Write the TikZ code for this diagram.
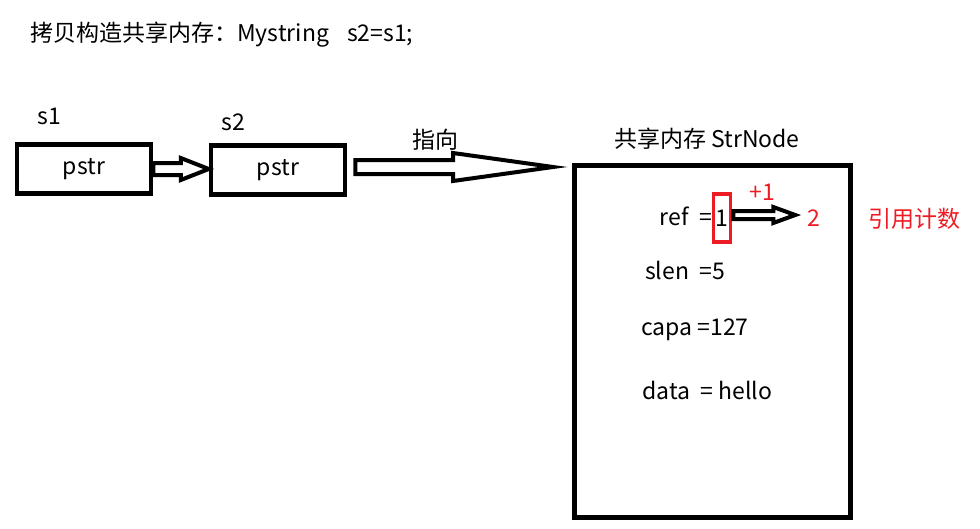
\documentclass[tikz,border=0pt]{standalone}
\usepackage{fontspec}
\setmainfont{Noto Sans CJK SC}
\usetikzlibrary{calc}
\definecolor{paintred}{RGB}{237,28,36}
\tikzset{
  box/.style={draw, line width=4.5pt, minimum width=134pt, minimum height=49pt, inner sep=0pt},
  txt/.style={inner sep=0pt, font=\fontsize{23}{27}\selectfont},
  redtxt/.style={txt, text=paintred},
  fat/.style={draw, line width=4pt, line join=miter, fill=white}
}
% hollow arrow: from, to, half body, half head, head length
\newcommand{\fatarrow}[5]{%
  \draw[fat] let \p1=(#1), \p2=(#2) in
    (\x1,\y1+#3) -- (\x2-#5,\y1+#3) -- (\x2-#5,\y1+#4) -- (\x2,\y1)
    -- (\x2-#5,\y1-#4) -- (\x2-#5,\y1-#3) -- (\x1,\y1-#3) -- cycle;}
\begin{document}
\begin{tikzpicture}[x=1pt,y=-1pt]
\useasboundingbox (0,0) rectangle (980,528);
\node[txt, anchor=west] (title) at (30,35) {拷贝构造共享内存：Mystring\hspace{18pt}s2=s1;};

\node[txt] (s1name) at (49,116) {s1};
\node[box, txt] (s1) at (84,169) {pstr};
\node[txt] (s2name) at (233,122) {s2};
\node[box, txt] (s2) at (278,170) {pstr};

\node[txt] (point) at (435,140) {指向};
\node[txt] (memname) at (707,139) {共享内存 StrNode};
\node[draw, line width=5pt, minimum width=276pt, minimum height=352pt] (mem) at (712.5,341.5) {};

\node[txt, anchor=east] (ref) at (712,216) {ref\ \ =};
\node[txt, draw=paintred, line width=3.5pt, minimum width=17pt, minimum height=48pt] (one) at (722,218) {1};
\node[redtxt] (plus) at (762,192) {+1};
\node[redtxt] (two) at (814,218) {2};
\node[redtxt] (count) at (914,219) {引用计数};

\node[txt, anchor=west] (slen) at (645,270) {slen\ \ =5};
\node[txt, anchor=west] (capa) at (641,330) {capa =127};
\node[txt, anchor=west] (data) at (642,390) {data\ \ = hello};

\fatarrow{s1.east}{s2.west}{6pt}{11pt}{28pt}
\fatarrow{$(s2.east)+(8,-3)$}{$(mem.west)+(-19,0)$}{7pt}{14pt}{100pt}
\fatarrow{$(one.east)+(1,-3)$}{$(one.east)+(63,0)$}{4pt}{8pt}{22pt}
\end{tikzpicture}
\end{document}
